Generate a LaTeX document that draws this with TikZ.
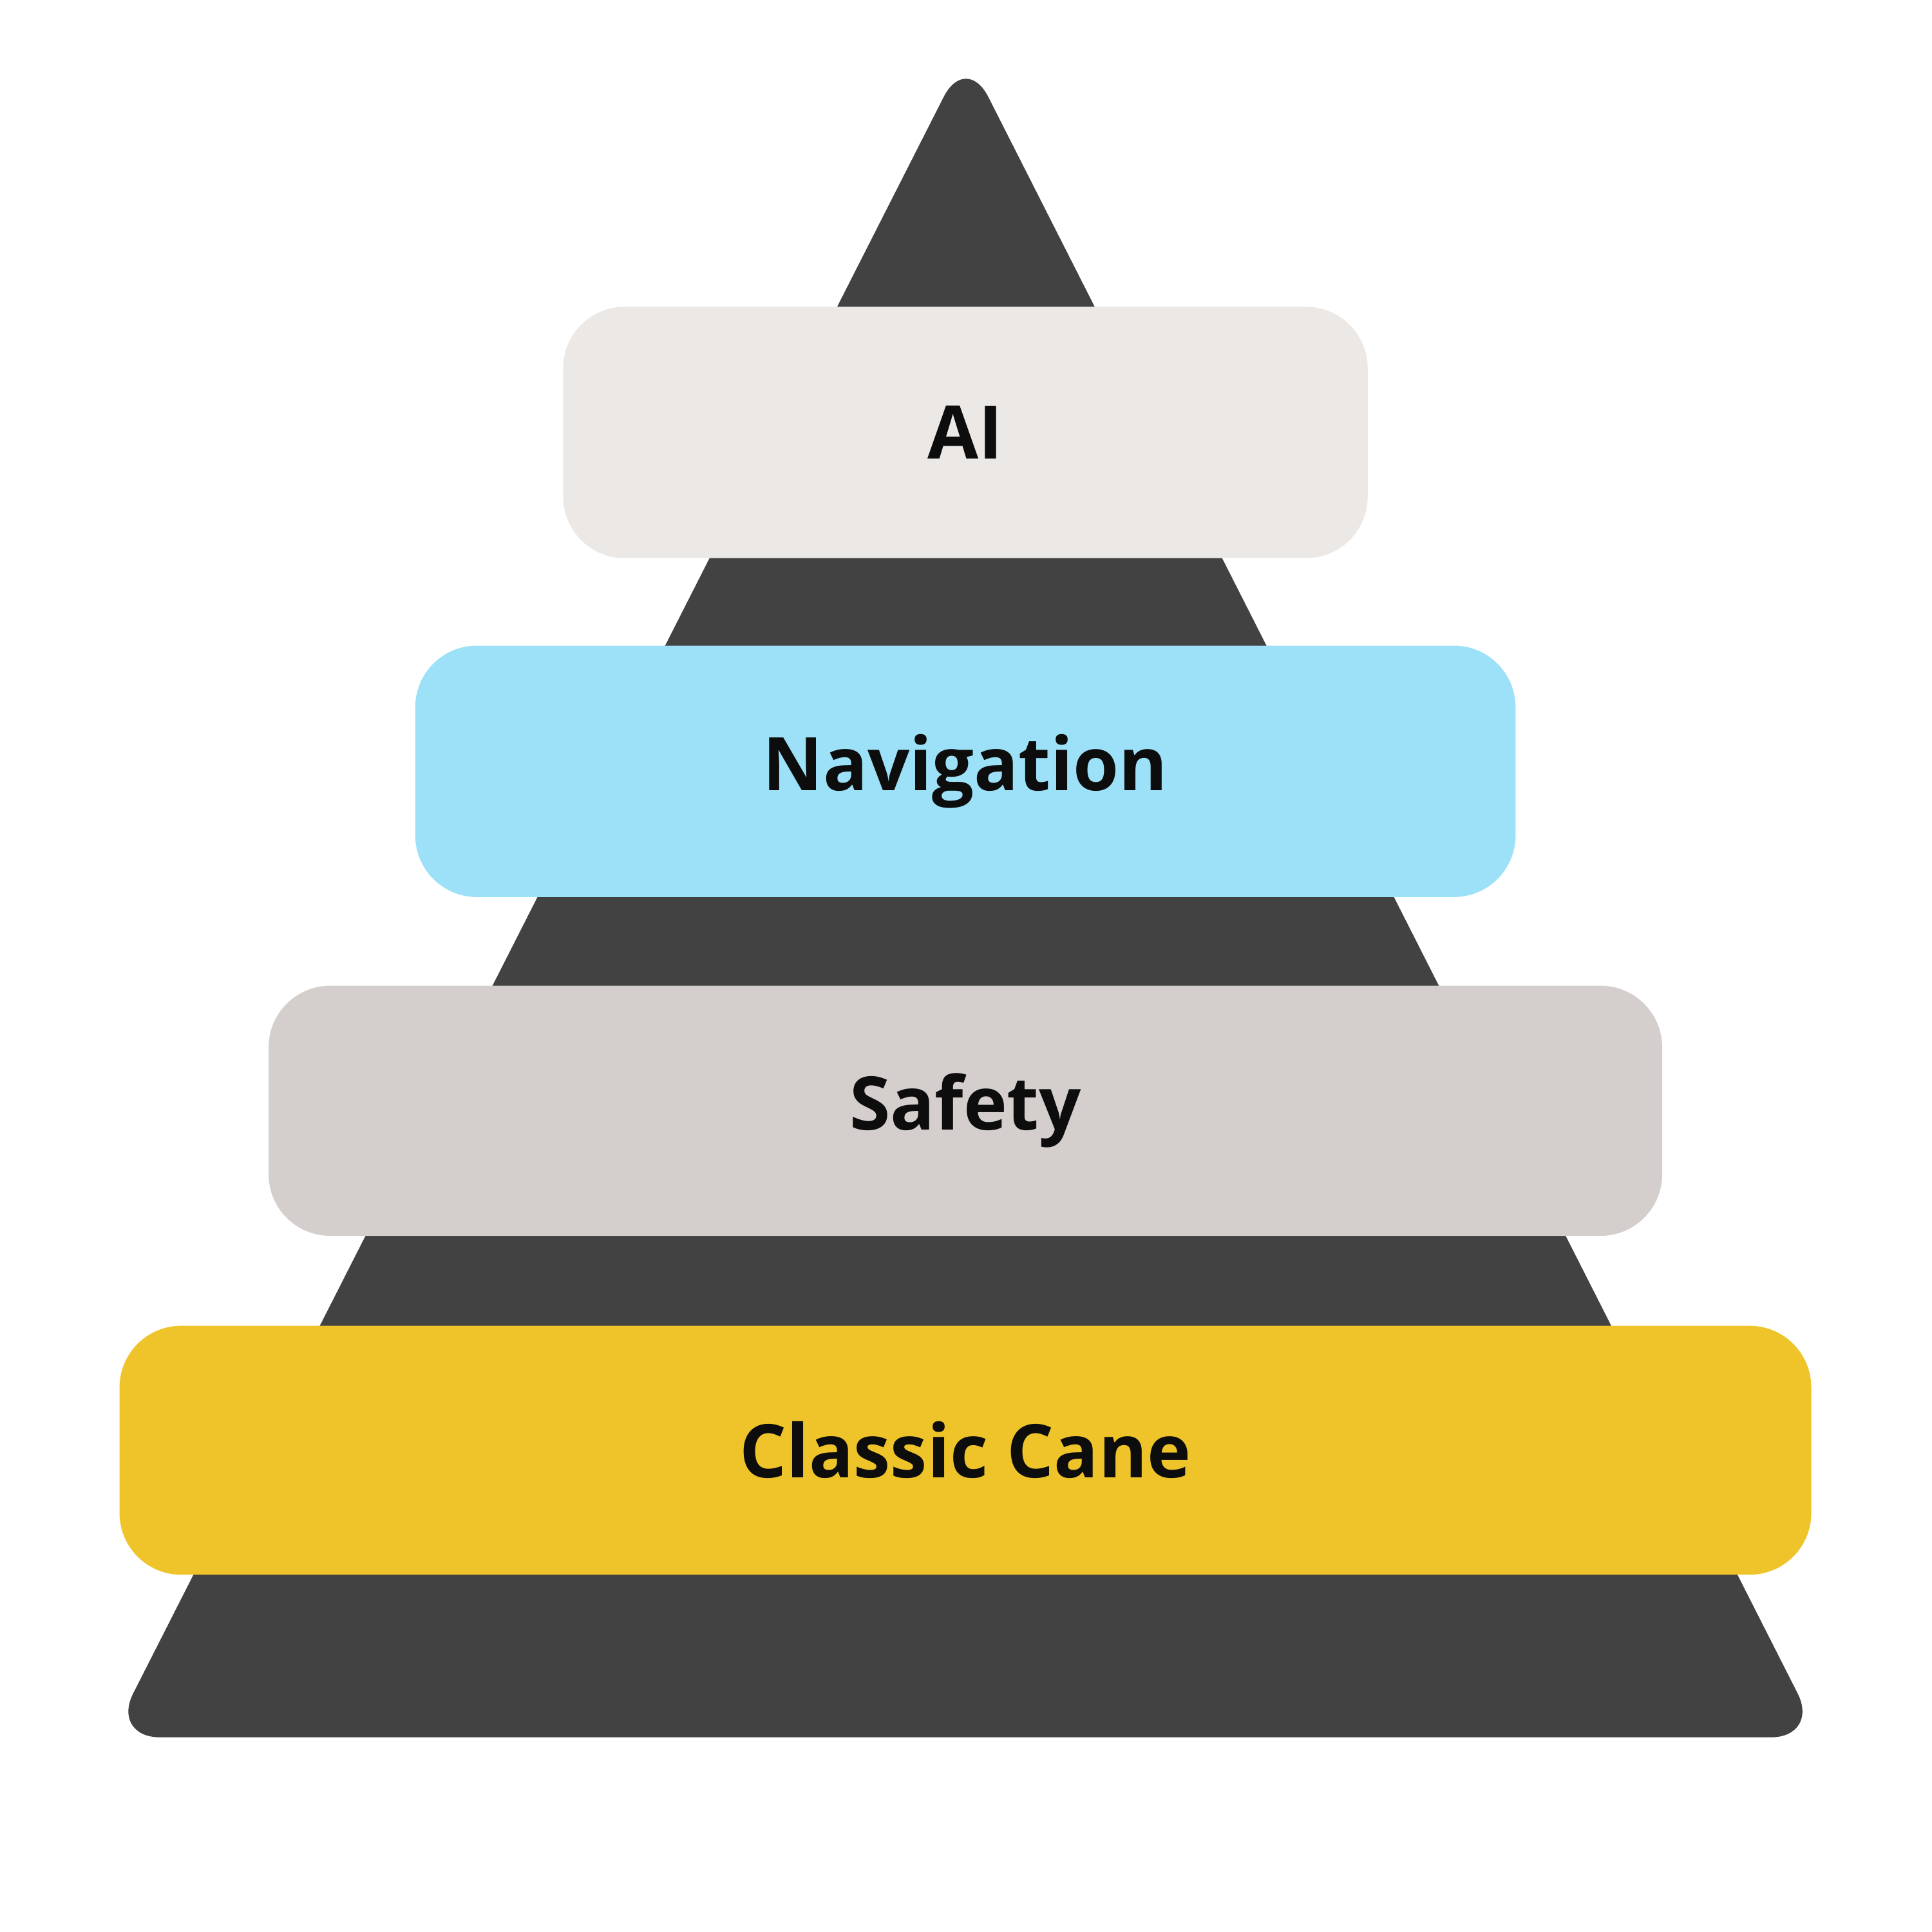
\documentclass[tikz,border=0pt]{standalone}
\usepackage{fontspec}
\setmainfont{Open Sans}
\definecolor{tri}{HTML}{424242}
\definecolor{cai}{HTML}{ECE8E5}
\definecolor{cnav}{HTML}{9CE1F7}
\definecolor{csaf}{HTML}{D4CFCC}
\definecolor{ccane}{HTML}{EEC42A}
\begin{document}
\begin{tikzpicture}[x=1pt,y=-1pt,
  lvl/.style={rounded corners=50pt},
  lab/.style={font=\fontsize{60}{60}\selectfont\bfseries, text=black!95}]
\useasboundingbox (0,0) rectangle (1568,1568);
\fill[tri, rounded corners=40pt] (784,43) -- (1477,1410) -- (90,1410) -- cycle;
\fill[cai,lvl] (457,249) rectangle (1110,453);
\node[lab] (ai) at (783.5,351) {AI};
\fill[cnav,lvl] (337,524) rectangle (1230,728);
\node[lab] (nav) at (783.5,626) {Navigation};
\fill[csaf,lvl] (218,800) rectangle (1349,1003);
\node[lab] (saf) at (783.5,901) {Safety};
\fill[ccane,lvl] (97,1076) rectangle (1470,1278);
\node[lab] (cane) at (783.5,1177) {Classic Cane};
\end{tikzpicture}
\end{document}
